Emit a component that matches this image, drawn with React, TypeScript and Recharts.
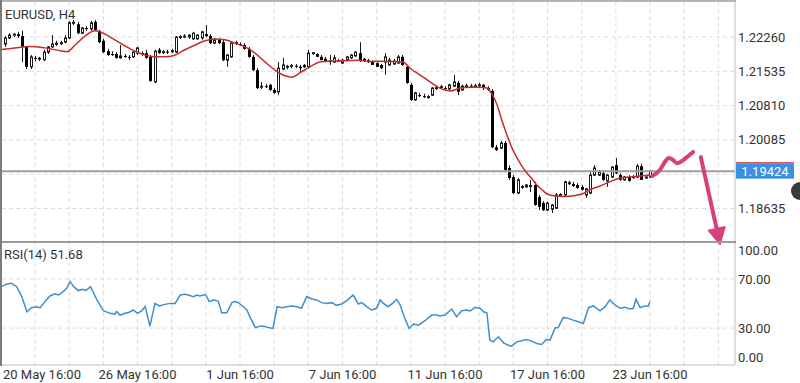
import React from "react";
import {
  ComposedChart,
  LineChart,
  Line,
  Bar,
  XAxis,
  YAxis,
  CartesianGrid,
  ReferenceLine,
} from "recharts";

// EURUSD H4 bars: [open, high, low, close]
const candles: number[][] = [
  [1.2211, 1.2228, 1.2205, 1.2224], [1.2224, 1.2234, 1.2222, 1.223], [1.223, 1.2234, 1.2226, 1.2232], [1.2232, 1.2237, 1.2224, 1.2228],
  [1.2228, 1.2239, 1.2173, 1.2205], [1.2205, 1.2207, 1.2158, 1.2163], [1.2163, 1.2188, 1.2158, 1.2184], [1.2182, 1.2186, 1.2175, 1.218],
  [1.218, 1.2184, 1.2175, 1.2181], [1.2178, 1.2199, 1.2175, 1.2194], [1.2194, 1.2207, 1.219, 1.2205], [1.2205, 1.223, 1.2203, 1.2211],
  [1.2211, 1.2218, 1.2207, 1.2213], [1.2213, 1.2218, 1.2209, 1.2214], [1.2215, 1.223, 1.2213, 1.2224], [1.2224, 1.226, 1.2222, 1.2256],
  [1.2256, 1.2262, 1.2251, 1.2257], [1.2253, 1.2258, 1.2232, 1.2234], [1.2234, 1.2247, 1.2232, 1.2245], [1.2245, 1.2249, 1.2239, 1.2243],
  [1.2243, 1.226, 1.2239, 1.2256], [1.2258, 1.2262, 1.2239, 1.2241], [1.2239, 1.2241, 1.2213, 1.2215], [1.2218, 1.2222, 1.2192, 1.2194],
  [1.2196, 1.2201, 1.2186, 1.2188], [1.219, 1.2196, 1.2186, 1.2189], [1.219, 1.2194, 1.218, 1.2182], [1.2182, 1.2209, 1.218, 1.2186],
  [1.2186, 1.219, 1.2182, 1.2184], [1.2184, 1.2188, 1.2177, 1.2182], [1.2184, 1.2196, 1.2182, 1.2194], [1.2192, 1.2205, 1.2188, 1.2203],
  [1.2192, 1.2196, 1.2186, 1.2191], [1.2192, 1.2199, 1.218, 1.2182], [1.2184, 1.2188, 1.2131, 1.2133], [1.2131, 1.2199, 1.2129, 1.2196],
  [1.2199, 1.2203, 1.219, 1.2192], [1.2194, 1.2199, 1.219, 1.2195], [1.2195, 1.2199, 1.219, 1.2194], [1.2195, 1.2201, 1.2192, 1.2197],
  [1.2194, 1.2228, 1.2192, 1.2226], [1.2226, 1.223, 1.2222, 1.2227], [1.2226, 1.2232, 1.2224, 1.2228], [1.2226, 1.2232, 1.2222, 1.223],
  [1.2222, 1.2237, 1.222, 1.2234], [1.2222, 1.2232, 1.222, 1.223], [1.2224, 1.2239, 1.222, 1.2237], [1.2232, 1.2251, 1.2226, 1.2228],
  [1.2228, 1.2232, 1.2211, 1.2213], [1.2213, 1.2224, 1.2211, 1.222], [1.222, 1.2224, 1.2211, 1.2213], [1.2215, 1.222, 1.2175, 1.2177],
  [1.2177, 1.219, 1.2163, 1.2188], [1.2184, 1.2215, 1.2182, 1.2213], [1.2213, 1.2218, 1.2209, 1.2214], [1.2211, 1.2215, 1.2207, 1.221],
  [1.2209, 1.2213, 1.2199, 1.2201], [1.2201, 1.2205, 1.2182, 1.2184], [1.2184, 1.2188, 1.2154, 1.2156], [1.2156, 1.216, 1.2116, 1.2118],
  [1.212, 1.2131, 1.2116, 1.2122], [1.2122, 1.2127, 1.2118, 1.2121], [1.2125, 1.2127, 1.2112, 1.2114], [1.2114, 1.2118, 1.2106, 1.2108],
  [1.211, 1.2173, 1.2103, 1.216], [1.2158, 1.2182, 1.2156, 1.2167], [1.2163, 1.2167, 1.2158, 1.2164], [1.2165, 1.2169, 1.216, 1.2166],
  [1.2165, 1.2169, 1.216, 1.2164], [1.2163, 1.2167, 1.2152, 1.216], [1.2163, 1.2169, 1.216, 1.2166], [1.2163, 1.2199, 1.216, 1.2192],
  [1.2192, 1.2194, 1.2188, 1.2193], [1.219, 1.2192, 1.2184, 1.2184], [1.2184, 1.2188, 1.2177, 1.2177], [1.218, 1.2184, 1.2173, 1.2173],
  [1.2175, 1.2188, 1.2167, 1.2176], [1.2173, 1.2188, 1.2171, 1.2182], [1.2176, 1.218, 1.2173, 1.2175], [1.2171, 1.218, 1.2169, 1.2177],
  [1.2177, 1.2186, 1.2175, 1.2184], [1.2182, 1.219, 1.218, 1.2188], [1.2186, 1.2196, 1.2184, 1.2194], [1.2192, 1.2215, 1.2173, 1.2175],
  [1.218, 1.2182, 1.2173, 1.2175], [1.2175, 1.218, 1.2171, 1.2176], [1.2173, 1.2177, 1.2167, 1.2167], [1.2171, 1.2175, 1.2163, 1.2163],
  [1.2167, 1.2169, 1.2158, 1.216], [1.2173, 1.2192, 1.2146, 1.2184], [1.2167, 1.2182, 1.2165, 1.2177], [1.2169, 1.218, 1.2167, 1.2175],
  [1.2171, 1.2188, 1.2169, 1.2184], [1.2184, 1.2188, 1.2165, 1.2167], [1.2163, 1.2167, 1.2127, 1.2129], [1.2125, 1.2129, 1.2091, 1.2093],
  [1.2093, 1.211, 1.2091, 1.2108], [1.2103, 1.2108, 1.2099, 1.2101], [1.2101, 1.2106, 1.2097, 1.2099], [1.2099, 1.2103, 1.2095, 1.21],
  [1.2103, 1.212, 1.2101, 1.2118], [1.2118, 1.2122, 1.2114, 1.2119], [1.212, 1.2125, 1.2116, 1.2121], [1.2118, 1.2122, 1.2114, 1.2117],
  [1.2116, 1.2127, 1.2114, 1.2125], [1.2122, 1.2146, 1.212, 1.2131], [1.2129, 1.2133, 1.2103, 1.211], [1.2114, 1.2125, 1.2112, 1.2122],
  [1.2122, 1.2127, 1.2118, 1.2123], [1.2123, 1.2127, 1.2118, 1.2122], [1.2122, 1.2127, 1.2118, 1.2123], [1.2124, 1.2129, 1.212, 1.2125],
  [1.2125, 1.2127, 1.2114, 1.2118], [1.2118, 1.2122, 1.2112, 1.2114], [1.2112, 1.2116, 1.1991, 1.1993], [1.1993, 1.1998, 1.1985, 1.1987],
  [1.1991, 1.2006, 1.1989, 1.2002], [1.2002, 1.2006, 1.1943, 1.1945], [1.1949, 1.1955, 1.1924, 1.1928], [1.193, 1.1934, 1.1894, 1.1896],
  [1.1896, 1.1928, 1.1894, 1.1924], [1.1909, 1.1913, 1.1905, 1.191], [1.1909, 1.1915, 1.1907, 1.1913], [1.1911, 1.1924, 1.1898, 1.1912],
  [1.1913, 1.192, 1.1869, 1.1871], [1.1888, 1.1892, 1.186, 1.1867], [1.1875, 1.1879, 1.1858, 1.186], [1.186, 1.1877, 1.1858, 1.1875],
  [1.1862, 1.1873, 1.1854, 1.1871], [1.1864, 1.1896, 1.1862, 1.1892], [1.1892, 1.1896, 1.1888, 1.1893], [1.1892, 1.1922, 1.189, 1.192],
  [1.1917, 1.1922, 1.1913, 1.1918], [1.1915, 1.192, 1.1909, 1.1911], [1.1913, 1.1917, 1.1905, 1.1907], [1.1909, 1.1913, 1.1901, 1.1903],
  [1.1892, 1.1907, 1.1886, 1.1905], [1.1896, 1.194, 1.1894, 1.1934], [1.1934, 1.1955, 1.1932, 1.1949], [1.1934, 1.1945, 1.1932, 1.194],
  [1.1938, 1.1943, 1.1922, 1.1924], [1.1922, 1.1936, 1.1909, 1.1934], [1.193, 1.1953, 1.1928, 1.1951], [1.1955, 1.197, 1.1936, 1.1938],
  [1.1934, 1.1938, 1.1922, 1.1924], [1.1924, 1.1932, 1.1922, 1.193], [1.193, 1.1934, 1.192, 1.1922], [1.193, 1.1934, 1.1926, 1.1931],
  [1.193, 1.1958, 1.1928, 1.1953], [1.1953, 1.1958, 1.1924, 1.1924], [1.1928, 1.1934, 1.1926, 1.193], [1.193, 1.1945, 1.1928, 1.19424],
];

// moving average, [bar index, price]
const maPoints: number[][] = [
  [-1.2, 1.2199], [2.3, 1.2203], [5.8, 1.2206], [9.3, 1.2203], [12.9, 1.2197], [14.5, 1.2195], [16.4, 1.2209],
  [18.7, 1.2228], [21.1, 1.2239], [23.4, 1.2232], [25.7, 1.222], [28.1, 1.2207], [30.4, 1.2196], [32.8, 1.2188],
  [35.1, 1.2184], [37.4, 1.2184], [39.8, 1.2188], [42.1, 1.2199], [44.5, 1.2209], [46.8, 1.2218], [49.1, 1.2222],
  [51.5, 1.222], [53.8, 1.2213], [56.2, 1.2205], [58.5, 1.2192], [60.9, 1.2173], [63.2, 1.2156], [65.5, 1.2144],
  [67.2, 1.2141], [69.0, 1.215], [71.4, 1.2163], [73.7, 1.2173], [76.1, 1.2175], [79.6, 1.2176], [83.1, 1.2177],
  [85.4, 1.2174], [87.8, 1.2175], [91.3, 1.2174], [93.2, 1.2173], [94.8, 1.216], [97.1, 1.2146], [99.5, 1.2131],
  [101.8, 1.2118], [104.2, 1.2112], [106.5, 1.2118], [108.9, 1.212], [111.2, 1.212], [112.8, 1.2118], [114.0, 1.2105],
  [115.2, 1.2082], [116.3, 1.205], [117.5, 1.2019], [118.7, 1.1991], [119.9, 1.197], [121.0, 1.1953], [122.2, 1.1938],
  [123.4, 1.1926], [124.5, 1.1913], [125.7, 1.1903], [126.9, 1.1894], [128.8, 1.189], [131.1, 1.1889], [133.4, 1.1891],
  [135.1, 1.1894], [136.9, 1.1903], [139.3, 1.1911], [141.6, 1.192], [144.0, 1.1928], [146.3, 1.193], [148.7, 1.1932],
  [151.0, 1.1934],
];

// RSI(14), [bar index, value]
const rsiPoints: number[][] = [
  [-1.2, 63.2], [0.4, 65.9], [1.5, 66.5], [2.7, 63.7], [3.9, 55.6], [5.1, 43.3], [6.2, 46.6], [7.4, 47.4], [8.2, 46.6],
  [9.3, 51.5], [10.5, 56.1], [11.7, 57.8], [12.5, 56.9], [13.6, 59.7], [14.4, 62.4], [15.2, 67.8], [16.1, 63.7],
  [17.1, 60.5], [18.2, 61.6], [18.9, 60.5], [20.0, 63.7], [21.5, 52.9], [23.0, 44.1], [24.6, 42.0], [25.7, 41.4],
  [26.1, 43.6], [26.9, 40.6], [28.1, 42.0], [29.2, 43.1], [30.0, 44.7], [31.0, 42.0], [32.0, 44.1], [32.8, 47.4],
  [33.9, 31.6], [35.1, 50.1], [36.1, 48.0], [37.4, 49.3], [38.6, 50.1], [39.8, 50.1], [41.0, 56.9], [42.1, 57.5],
  [42.9, 56.9], [44.1, 55.6], [44.9, 56.9], [45.6, 56.1], [46.4, 56.9], [47.0, 56.9], [47.8, 51.5], [48.8, 52.9],
  [49.9, 52.0], [50.7, 42.5], [51.9, 42.5], [53.1, 50.7], [53.8, 51.5], [54.6, 50.7], [55.8, 47.4], [56.6, 44.7],
  [57.5, 37.9], [58.6, 30.5], [59.7, 31.6], [60.5, 31.6], [61.6, 30.5], [62.7, 29.7], [63.7, 47.4], [64.8, 46.6],
  [65.9, 47.4], [67.1, 48.0], [68.3, 47.4], [69.4, 46.1], [70.6, 55.6], [71.8, 53.7], [73.0, 52.9], [74.1, 50.7],
  [75.3, 50.1], [76.5, 50.7], [77.6, 48.5], [78.8, 49.6], [80.0, 52.3], [81.5, 56.9], [82.7, 49.6], [83.5, 50.7],
  [84.7, 47.4], [85.8, 44.7], [87.0, 46.1], [87.8, 52.9], [88.6, 50.1], [89.7, 47.4], [90.7, 50.1], [91.7, 53.4],
  [92.5, 48.8], [93.6, 37.9], [94.6, 29.7], [95.6, 33.3], [96.8, 32.4], [98.3, 36.0], [99.9, 40.6], [101.1, 40.6],
  [101.8, 39.8], [103.0, 40.6], [104.6, 45.5], [105.7, 39.2], [106.9, 44.1], [108.1, 44.7], [108.9, 43.9], [110.0, 46.9],
  [111.2, 46.1], [112.0, 43.3], [112.8, 42.5], [113.5, 20.2], [114.3, 18.8], [115.5, 22.9], [116.7, 18.0], [117.8, 16.1],
  [118.6, 15.3], [119.8, 18.8], [121.0, 19.7], [122.1, 20.8], [123.3, 19.4], [124.5, 17.5], [125.6, 16.7], [126.8, 20.8],
  [127.6, 20.2], [128.8, 30.3], [129.5, 30.5], [130.7, 38.7], [131.9, 37.9], [133.0, 36.5], [134.2, 35.2], [135.4, 33.8],
  [136.6, 46.6], [137.7, 48.0], [139.3, 44.1], [140.5, 47.4], [141.6, 52.9], [142.8, 48.8], [144.0, 46.1], [145.1, 46.9],
  [146.3, 45.5], [147.1, 46.1], [147.7, 53.4], [148.7, 46.6], [149.8, 48.0], [150.6, 48.0], [151.0, 51.68],
];

// hand-drawn forecast squiggle and arrow, [bar index, price]
const wavePoints: number[][] = [
  [151.5, 1.1932], [153.3, 1.1945], [154.5, 1.1962], [155.4, 1.197], [156.4, 1.1966],
  [157.3, 1.1959], [158.5, 1.1964], [159.9, 1.1974], [161.1, 1.1983],
];
const arrowFrom = [162.9, 1.1972];
const arrowTo = [167.4, 1.1788];

const priceTicks = [1.2226, 1.21535, 1.2081, 1.20085, 1.18635];
const priceGrid = [1.2226, 1.21535, 1.2081, 1.20085, 1.1936, 1.18635];
const lastPrice = 1.19424;
const rsiTicks = [0, 30, 70, 100];
const rsiGrid = [30, 70];
const rsiLast = 51.68;
const timeTicks = [7, 31, 55, 79, 103, 127, 151];
const timeLabels = [
  "20 May 16:00",
  "26 May 16:00",
  "1 Jun 16:00",
  "7 Jun 16:00",
  "11 Jun 16:00",
  "17 Jun 16:00",
  "23 Jun 16:00",
];
const gridX = [7, 15, 23, 31, 39, 47, 55, 63, 71, 79, 87, 95, 103, 111, 119, 127, 135, 143, 151, 159, 167];

const xDomain = [-0.73, 170.9];
const candleData = candles.map(([o, h, l, c], i) => ({ i, o, h, l, c }));
const maData = maPoints.map(([i, v]) => ({ i, v }));
const rsiData = rsiPoints.map(([i, v]) => ({ i, v }));
const waveData = wavePoints.map(([i, v]) => ({ i, v }));

const PINK = "#d8407c";

function Candle(props: any) {
  const { x, y, width, height, payload } = props;
  if (!payload || height == null) return null;
  const { o, h, l, c } = payload;
  const cx = Math.round(x + width / 2);
  const span = h - l || 1e-9;
  const py = (p: number) => y + ((h - p) / span) * height;
  const top = py(Math.max(o, c));
  const bh = Math.max(py(Math.min(o, c)) - top, 1);
  const up = c >= o;
  return (
    <g>
      <line x1={cx + 0.5} x2={cx + 0.5} y1={y} y2={y + height} stroke="#1a1a1a" strokeWidth={1} />
      {up ? (
        <rect x={cx - 0.5} y={top} width={2} height={bh} fill="#fff" stroke="#1a1a1a" strokeWidth={1} />
      ) : (
        <rect x={cx - 1} y={top} width={3} height={bh} fill="#000" />
      )}
    </g>
  );
}

function Arrow(props: any) {
  const { x1, y1, x2, y2 } = props;
  const dx = x2 - x1;
  const dy = y2 - y1;
  const len = Math.sqrt(dx * dx + dy * dy);
  const ux = dx / len;
  const uy = dy / len;
  const head = 16;
  const bx = x2 - ux * head;
  const by = y2 - uy * head;
  const half = 8.5;
  return (
    <g>
      <line x1={x1} y1={y1} x2={bx + ux * 3} y2={by + uy * 3} stroke={PINK} strokeWidth={4} strokeLinecap="round" />
      <polygon
        points={`${x2},${y2} ${bx - uy * half},${by + ux * half} ${bx + uy * half},${by - ux * half}`}
        fill={PINK}
        stroke={PINK}
        strokeWidth={1.5}
        strokeLinejoin="round"
      />
    </g>
  );
}

function PriceTag(props: any) {
  const vb = props.viewBox;
  if (!vb) return null;
  const x = vb.x + vb.width + 1;
  const y = vb.y;
  return (
    <g>
      <rect x={x} y={y - 9} width={58} height={1.5} fill="#d9363e" />
      <rect x={x} y={y - 7.5} width={58} height={15} fill="#3b8fe4" />
      <text x={x + 29} y={y} dy={4.6} textAnchor="middle" fontSize={13} fill="#fff">
        {lastPrice.toFixed(5)}
      </text>
    </g>
  );
}

function RsiTick(props: any) {
  const { x, y, payload } = props;
  const v = payload.value;
  const shift = v === 100 ? 8 : v === 0 ? -8 : 0;
  return (
    <text x={x} y={y + shift} dy={4.6} textAnchor="start" fontSize={13} fill="#333">
      {v.toFixed(2)}
    </text>
  );
}

function TimeTick(props: any) {
  const { x, y, payload } = props;
  const label = timeLabels[timeTicks.indexOf(payload.value)];
  return (
    <text x={Math.max(x, 42)} y={y} dy={9.5} textAnchor="middle" fontSize={13} fill="#333">
      {label}
    </text>
  );
}

export default function App() {
  return (
    <div
      style={{
        position: "absolute",
        left: 0,
        top: 0,
        width: 800,
        height: 383,
        overflow: "hidden",
        background: "#fff",
        fontFamily: "Roboto, sans-serif",
        color: "#333",
      }}
    >
      {/* RSI panel */}
      <div style={{ position: "absolute", left: 0, top: 242 }}>
        <LineChart width={800} height={141} data={rsiData} margin={{ top: 0, right: 0, bottom: 0, left: 2 }}>
          <CartesianGrid stroke="#dcdcdc" strokeDasharray="4 3" horizontalValues={rsiGrid} verticalValues={gridX} />
          <XAxis
            type="number"
            dataKey="i"
            domain={xDomain}
            allowDataOverflow
            ticks={timeTicks}
            interval={0}
            height={18}
            tickSize={0}
            tickMargin={4}
            axisLine={{ stroke: "#bdbdbd" }}
            tick={<TimeTick />}
          />
          <YAxis
            orientation="right"
            width={65}
            domain={[0, 100]}
            ticks={rsiTicks}
            interval={0}
            tickSize={0}
            tickMargin={3}
            axisLine={{ stroke: "#bdbdbd" }}
            tick={<RsiTick />}
          />
          <Line type="linear" dataKey="v" stroke="#3f8fcf" strokeWidth={1.5} dot={false} isAnimationActive={false} />
        </LineChart>
      </div>

      {/* price panel */}
      <div style={{ position: "absolute", left: 0, top: 0 }}>
        <ComposedChart width={800} height={247} data={candleData} margin={{ top: 2, right: 0, bottom: 5, left: 2 }}>
          <CartesianGrid stroke="#dcdcdc" strokeDasharray="4 3" horizontalValues={priceGrid} verticalValues={gridX} />
          <XAxis type="number" dataKey="i" domain={xDomain} allowDataOverflow hide />
          <YAxis
            orientation="right"
            width={65}
            domain={[1.17926, 1.23]}
            allowDataOverflow
            ticks={priceTicks}
            interval={0}
            tickSize={0}
            tickMargin={3}
            axisLine={{ stroke: "#bdbdbd" }}
            tick={{ fontSize: 13, fill: "#333" }}
            tickFormatter={(v: number) => v.toFixed(5)}
          />
          <ReferenceLine
            y={lastPrice}
            stroke="#9e9e9e"
            strokeWidth={2}
            label={(p: any) => <PriceTag viewBox={p.viewBox} />}
          />
          <Bar
            dataKey={(d: any) => [d.l, d.h]}
            barSize={3}
            shape={(p: any) => <Candle {...p} />}
            isAnimationActive={false}
          />
          <Line
            data={maData}
            type="monotone"
            dataKey="v"
            stroke="#c62d2d"
            strokeWidth={1.5}
            dot={false}
            isAnimationActive={false}
          />
          <Line
            data={waveData}
            type="monotone"
            dataKey="v"
            stroke={PINK}
            strokeWidth={4}
            strokeLinecap="round"
            dot={false}
            isAnimationActive={false}
          />
          <ReferenceLine
            segment={[
              { x: arrowFrom[0], y: arrowFrom[1] },
              { x: arrowTo[0], y: arrowTo[1] },
            ]}
            ifOverflow="visible"
            shape={(p: any) => <Arrow {...p} />}
          />
        </ComposedChart>
      </div>

      {/* panel frame */}
      <div style={{ position: "absolute", left: 0, top: 0, width: 736, height: 2, background: "#b5b5b5" }} />
      <div style={{ position: "absolute", left: 0, top: 241, width: 736, height: 2, background: "#9a9a9a" }} />
      <div style={{ position: "absolute", left: 0, top: 0, width: 2, height: 366, background: "#7c7c7c" }} />
      <div
        style={{
          position: "absolute",
          left: 791,
          top: 182,
          width: 18,
          height: 18,
          borderRadius: 9,
          background: "#3a3a3a",
        }}
      />

      <div style={{ position: "absolute", left: 5, top: 7, fontSize: 13, lineHeight: "16px" }}>EURUSD, H4</div>
      <div style={{ position: "absolute", left: 4, top: 247, fontSize: 13, lineHeight: "16px" }}>
        RSI(14) {rsiLast.toFixed(2)}
      </div>
    </div>
  );
}
